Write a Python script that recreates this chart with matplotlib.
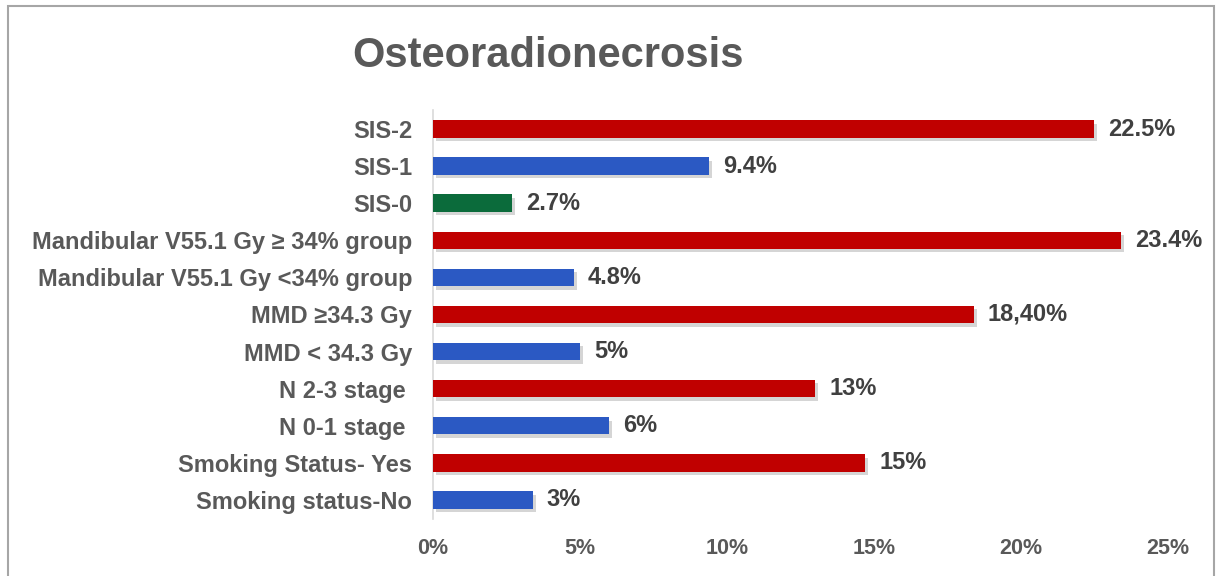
import matplotlib
matplotlib.use("Agg")
import matplotlib.pyplot as plt
import matplotlib.patheffects as pe
from matplotlib.patches import Rectangle

# data, bottom row first
categories = ["Smoking status-No", "Smoking Status- Yes", "N 0-1 stage ", "N 2-3 stage ",
              "MMD < 34.3 Gy", "MMD \u226534.3 Gy", "Mandibular V55.1 Gy <34% group",
              "Mandibular V55.1 Gy \u2265 34% group", "SIS-0", "SIS-1", "SIS-2"]
values = [3.4, 14.7, 6.0, 13.0, 5.0, 18.4, 4.8, 23.4, 2.7, 9.4, 22.5]
value_labels = ["3%", "15%", "6%", "13%", "5%", "18,40%", "4.8%", "23.4%", "2.7%", "9.4%", "22.5%"]
groups = ["low", "high", "low", "high", "low", "high", "low", "high", "zero", "low", "high"]
xticks = [0, 5, 10, 15, 20, 25]

group_colors = {"high": "#C00000", "low": "#2B59C3", "zero": "#0B6B3B"}
plt.rcParams['font.family'] = ['Liberation Sans', 'DejaVu Sans']

fig = plt.figure(figsize=(12.16, 5.76), dpi=100)
ax = fig.add_axes([0.356, 0.0998, 0.6045, 0.7084])

shadow = [pe.SimplePatchShadow(offset=(2, -2.5), shadow_rgbFace="#777777", alpha=0.3), pe.Normal()]
ypos = list(range(len(categories)))
bars = ax.barh(ypos, values, height=0.47, color=[group_colors[g] for g in groups], zorder=3)
for b in bars:
    b.set_path_effects(shadow)

for y, v, lab in zip(ypos, values, value_labels):
    ax.annotate(lab, (v, y), xytext=(10, 0), textcoords="offset points",
                va="center", ha="left", fontsize=17, fontweight="bold", color="#404040")

ax.set_xlim(0, 25)
ax.set_ylim(-0.5, len(categories) - 0.5)
ax.set_yticks(ypos)
ax.set_yticklabels(categories, fontsize=17, fontweight="bold", color="#595959")
ax.set_xticks(xticks)
ax.set_xticklabels([f"{t}%" for t in xticks], fontsize=15.5, fontweight="bold", color="#595959")
ax.tick_params(axis="y", length=0, pad=15)
ax.tick_params(axis="x", length=0, pad=14)
for s in ["top", "right", "bottom"]:
    ax.spines[s].set_visible(False)
ax.spines["left"].set_color("#D9D9D9")
ax.spines["left"].set_linewidth(1.2)

fig.text(0.4507, 0.8837, "Osteoradionecrosis", fontsize=30, fontweight="bold",
         color="#595959", ha="center", va="baseline")

# chart border
fig.patches.append(Rectangle((8 / 1216, -0.05), 1206 / 1216, 1.05 - 6 / 576,
                             transform=fig.transFigure, fill=False,
                             edgecolor="#A6A6A6", linewidth=1.5))

fig.savefig("out.png", dpi=100)
